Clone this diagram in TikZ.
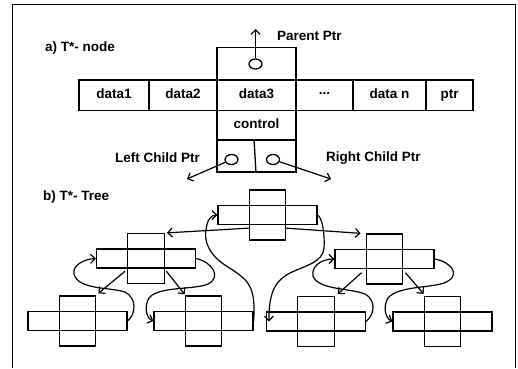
\documentclass[tikz,border=0pt]{standalone}
\usepackage{fontspec}
\setmainfont{Liberation Sans}
\usetikzlibrary{arrows.meta,shapes.geometric,calc}
\newcommand\crossnode[3]{%
  \node[cellh] (#1-h) at (#2,#3) {};
  \node[cellv] (#1-v) at (#2,#3) {};}
\begin{document}
\begin{tikzpicture}[x=1bp,y=-1bp,
  txt/.style={font=\fontsize{13.5bp}{16bp}\selectfont\bfseries},
  box/.style={draw, line width=1.3bp, inner sep=0, minimum height=30.5bp, txt, text height=9.8bp, text depth=2.6bp},
  cellh/.style={draw, line width=1.3bp, inner sep=0, minimum width=99bp, minimum height=19bp},
  cellv/.style={draw, line width=1.3bp, inner sep=0, minimum width=36.5bp, minimum height=50bp},
  lbl/.style={txt, inner sep=0},
  arr/.style={line width=1.2bp, -{Straight Barb[length=4.5bp,width=9bp]}},
  ptrc/.style={draw, ellipse, line width=1.3bp, minimum width=13bp, minimum height=10bp, inner sep=0}
]
\useasboundingbox[fill=white] (0,0) rectangle (518,368);
% frame
\draw[line width=1bp] (12,368) -- (12,4) -- (515,4) -- (515,368);

% ---- part a ----
\node[lbl, anchor=west] (ta) at (45,48) {a) T*- node};
\node[box, minimum width=70bp] (d1) at (114,95.25) {data1};
\node[box, minimum width=68bp] (d2) at (183,95.25) {data2};
\node[box, minimum width=79bp] (d3) at (256.5,95.25) {data3};
\node[box, minimum width=57bp] (dots) at (324.5,95.25) {\raisebox{4bp}{...}};
\node[box, minimum width=73bp] (dn) at (389.5,95.25) {data n};
\node[box, minimum width=47bp] (ptr) at (449.5,95.25) {ptr};
\node[box, minimum width=79bp, minimum height=32.5bp] (top) at (256.5,63.75) {};
\node[box, minimum width=79bp, minimum height=29.5bp] (ctl) at (256.5,125.25) {control};
\node[box, minimum width=79bp, minimum height=32bp] (bot) at (256.5,156) {};
\draw[line width=1.3bp] ([xshift=-2.5bp]bot.north) -- ([xshift=-0.5bp]bot.south);

\node[ptrc] (pc) at (255.5,64) {};
\node[ptrc] (lc) at (231.5,159.5) {};
\node[ptrc] (rc) at (273,159.5) {};
\coordinate (ptop) at (255.5,29);
\coordinate (lend) at (187,179);
\coordinate (rend) at (331,179);
\draw[arr] (pc.north) -- (ptop);
\draw[arr] (lc.204) -- (lend);
\draw[arr] (rc.341) -- (rend);

\node[lbl, anchor=west] (pp) at (277,35.5) {Parent Ptr};
\node[lbl, anchor=east] (lcp) at (200,158) {Left Child Ptr};
\node[lbl, anchor=west] (rcp) at (326,158) {Right Child Ptr};

% ---- part b ----
\node[lbl, anchor=west] (tb) at (43,197) {b) T*- Tree};
\crossnode{root}{267.5}{215}
\crossnode{L}{146}{258.5}
\crossnode{R}{384.5}{259}
\crossnode{LL}{77.5}{321}
\crossnode{LR}{203.5}{321}
\crossnode{RL}{316}{321.5}
\crossnode{RR}{442.5}{321.5}

% child pointers
\draw[arr] ([yshift=12.5bp]root-v.south west) -- ([xshift=2bp]L-v.north east);
\draw[arr] ([yshift=12.5bp]root-v.south east) -- ([xshift=-5bp]R-v.north west);
\draw[arr] ([xshift=-2bp,yshift=13bp]L-v.south west) -- ([xshift=2bp,yshift=2bp]LL-v.north east);
\draw[arr] ([xshift=1.5bp,yshift=13bp]L-v.south east) -- ([yshift=1bp]LR-v.north west);
\draw[arr] ([xshift=-4bp,yshift=12bp]R-v.south west) -- ([xshift=3bp,yshift=2bp]RL-v.north east);
\draw[arr] ([xshift=2bp,yshift=12bp]R-v.south east) -- ([yshift=2bp]RR-v.north west);

% threads
\draw[arr] (LR-h.east) .. controls (256,285) and (248,280) .. (228,267)
  .. controls (208,255) and (204,240) .. (206,230)
  .. controls (207,220) and (211,215) .. (root-h.west);
\draw[arr] (root-h.east) .. controls (322,218) and (325,232) .. (324,248)
  .. controls (323,262) and (305,266) .. (292,272)
  .. controls (275,280) and (269,292) .. ([xshift=3bp]RL-h.west);
\draw[arr] (LL-h.east) .. controls (136,314) and (137,298) .. (125,292)
  .. controls (110,287) and (78,290) .. (74,274)
  .. controls (72,265) and (85,259) .. (L-h.west);
\draw[arr] (L-h.east) .. controls (212,262) and (222,277) .. (208,284)
  .. controls (195,290) and (158,286) .. (149,298)
  .. controls (144,306) and (146,318) .. (LR-h.west);
\draw[arr] (RL-h.east) .. controls (375,314) and (376,300) .. (365,294)
  .. controls (350,288) and (318,290) .. (313,276)
  .. controls (311,266) and (322,259) .. (R-h.west);
\draw[arr] (R-h.east) .. controls (452,262) and (462,276) .. (444,283)
  .. controls (430,288) and (398,286) .. (388,298)
  .. controls (383,306) and (385,318) .. (RR-h.west);
\end{tikzpicture}
\end{document}
